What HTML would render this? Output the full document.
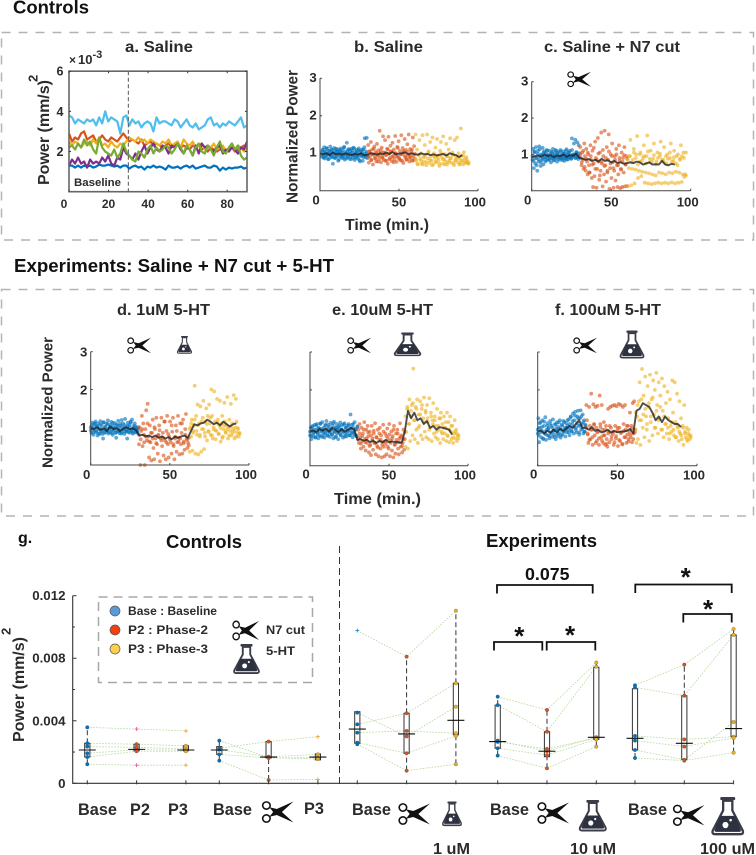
<!DOCTYPE html>
<html lang="en">
<head>
<meta charset="utf-8">
<title>Controls and experiments power chart</title>
<style>
html,body{margin:0;padding:0;background:#fff;width:756px;height:855px;overflow:hidden}
svg{display:block}
text{font-family:"Liberation Sans",sans-serif;font-weight:bold;fill:#2b2b2b}
.h{fill:#111}
</style>
</head>
<body>
<svg id="figure" xmlns="http://www.w3.org/2000/svg" width="756" height="855" viewBox="0 0 756 855">
<defs>
<symbol id="scissors-icon" viewBox="0 0 30 22" preserveAspectRatio="none">
<circle cx="4.6" cy="4.8" r="3.5" fill="#fff" stroke="#111" stroke-width="1.5"/>
<circle cx="4.6" cy="17.2" r="3.5" fill="#fff" stroke="#111" stroke-width="1.5"/>
<path d="M7.4 6.4L16.5 8.6L30 21L12.5 13Z" fill="#111"/>
<path d="M7.4 15.6L16.5 13.4L30 1L12.5 9Z" fill="#111"/>
</symbol>
<symbol id="flask-icon" viewBox="0 0 30 32" preserveAspectRatio="none">
<rect x="8.5" y="0" width="13" height="2.6" rx="1" fill="#3a3d49"/>
<path d="M11 3V11L2 27.5Q1 30.5 4 30.5H26Q29 30.5 28 27.5L19 11V3Z" fill="#fff" stroke="#3a3d49" stroke-width="2"/>
<path d="M8.4 15.5L3.6 27Q3.2 28.6 5 28.6H25Q26.8 28.6 26.4 27L21.6 15.5Z" fill="#2e3140"/>
<circle cx="13" cy="23" r="2.6" fill="#fff"/>
<circle cx="17.5" cy="19" r="1.1" fill="#fff"/>
</symbol>
</defs>

<rect width="756" height="855" fill="#fff"/>
<text class="h" x="13" y="13.5" font-size="18" textLength="76" lengthAdjust="spacingAndGlyphs">Controls</text>
<rect x="1.5" y="32.5" width="752" height="207.5" fill="none" stroke="#b4b4b4" stroke-width="1.5" stroke-dasharray="9 8"/>
<text class="h" x="14" y="272" font-size="18" textLength="320" lengthAdjust="spacingAndGlyphs">Experiments: Saline + N7 cut + 5-HT</text>
<rect x="1.5" y="289.5" width="752" height="226.5" fill="none" stroke="#b4b4b4" stroke-width="1.5" stroke-dasharray="9 8"/>

<text x="125" y="52" font-size="15.5" textLength="68" lengthAdjust="spacingAndGlyphs">a.  Saline</text>
<text x="354" y="52" font-size="15.5" textLength="69" lengthAdjust="spacingAndGlyphs">b.  Saline</text>
<text x="544" y="52" font-size="15.5" textLength="136" lengthAdjust="spacingAndGlyphs">c. Saline + N7 cut</text>
<text x="117" y="315" font-size="15.5" textLength="93" lengthAdjust="spacingAndGlyphs">d. 1uM 5-HT</text>
<text x="332" y="315" font-size="15.5" textLength="101" lengthAdjust="spacingAndGlyphs">e. 10uM 5-HT</text>
<text x="555" y="315" font-size="15.5" textLength="106" lengthAdjust="spacingAndGlyphs">f. 100uM 5-HT</text>

<text transform="translate(49,185) rotate(-90)" font-size="15.5" textLength="105" lengthAdjust="spacingAndGlyphs">Power (mm/s)</text>
<text transform="translate(37.5,82) rotate(-90)" font-size="13">2</text>
<text x="69" y="64" font-size="12">×</text>
<text x="78" y="64" font-size="13">10</text>
<text x="92.5" y="58" font-size="11">-3</text>
<text x="74" y="186" font-size="11" textLength="47" lengthAdjust="spacingAndGlyphs">Baseline</text>

<text transform="translate(297.5,203) rotate(-90)" font-size="15.3" textLength="133" lengthAdjust="spacingAndGlyphs">Normalized Power</text>
<text x="345" y="230" font-size="15.5" textLength="84" lengthAdjust="spacingAndGlyphs">Time (min.)</text>
<text transform="translate(52.5,468) rotate(-90)" font-size="15" textLength="131" lengthAdjust="spacingAndGlyphs">Normalized Power</text>
<text x="334" y="504" font-size="15.5" textLength="87" lengthAdjust="spacingAndGlyphs">Time (min.)</text>

<use href="#scissors-icon" x="567" y="71" width="24" height="16.5"/>
<use href="#scissors-icon" x="127" y="337" width="24" height="17"/>
<use href="#flask-icon" x="176.5" y="336" width="16" height="18"/>
<use href="#scissors-icon" x="347" y="337" width="24" height="17"/>
<use href="#flask-icon" x="393" y="332.5" width="29" height="24"/>
<use href="#scissors-icon" x="573" y="337" width="24" height="17"/>
<use href="#flask-icon" x="619" y="330.5" width="26" height="28.5"/>

<g id="panel-a"></g>
<g id="panel-b"></g>
<g id="panel-c"></g>
<g id="panel-d"></g>
<g id="panel-e"></g>
<g id="panel-f"></g>

<text class="h" x="18" y="543" font-size="16">g.</text>
<text class="h" x="166" y="548" font-size="18.5" textLength="76" lengthAdjust="spacingAndGlyphs">Controls</text>
<text class="h" x="486" y="547" font-size="18.5" textLength="111" lengthAdjust="spacingAndGlyphs">Experiments</text>
<line x1="339.5" y1="546" x2="339.5" y2="788" stroke="#333" stroke-width="1" stroke-dasharray="7 4"/>
<text transform="translate(24,742) rotate(-90)" font-size="15.5" textLength="105" lengthAdjust="spacingAndGlyphs">Power (mm/s)</text>
<text transform="translate(10.5,635) rotate(-90)" font-size="13">2</text>

<g id="panel-g"></g>

<g>
<rect x="98.5" y="597" width="214" height="85.5" fill="#fff" fill-opacity="0.6" stroke="#a8a8a8" stroke-width="1.5" stroke-dasharray="9 6"/>
<circle cx="115" cy="611" r="5" fill="#5b9bd5" stroke="#555" stroke-width="0.7"/>
<circle cx="115" cy="630" r="5" fill="#ee4210" stroke="#555" stroke-width="0.7"/>
<circle cx="115" cy="649" r="5" fill="#ffd04d" stroke="#555" stroke-width="0.7"/>
<text x="128" y="615" font-size="11.8" textLength="89" lengthAdjust="spacingAndGlyphs">Base : Baseline</text>
<text x="128" y="634" font-size="11.8" textLength="80" lengthAdjust="spacingAndGlyphs">P2  : Phase-2</text>
<text x="128" y="653" font-size="11.8" textLength="80" lengthAdjust="spacingAndGlyphs">P3  : Phase-3</text>
<use href="#scissors-icon" x="232" y="620" width="27" height="21"/>
<use href="#flask-icon" x="232.5" y="644" width="28" height="30.5"/>
<text x="266" y="634" font-size="12" textLength="39" lengthAdjust="spacingAndGlyphs">N7 cut</text>
<text x="266" y="655" font-size="12" textLength="29" lengthAdjust="spacingAndGlyphs">5-HT</text>
</g>

<text x="78" y="815" font-size="16.3">Base</text>
<text x="130" y="815" font-size="16.3">P2</text>
<text x="168" y="815" font-size="16.3">P3</text>
<text x="213" y="815" font-size="16.3">Base</text>
<use href="#scissors-icon" x="261.5" y="800.5" width="32" height="23"/>
<text x="304" y="814" font-size="16.3">P3</text>
<text x="352" y="815" font-size="16.3">Base</text>
<use href="#scissors-icon" x="398" y="802.5" width="32" height="23"/>
<use href="#flask-icon" x="441.5" y="801.5" width="21" height="25"/>
<text x="433" y="854" font-size="15.5" textLength="37" lengthAdjust="spacingAndGlyphs">1 uM</text>
<text x="490" y="815" font-size="16.3">Base</text>
<use href="#scissors-icon" x="537" y="801.5" width="32" height="23"/>
<use href="#flask-icon" x="578" y="800" width="29.5" height="32"/>
<text x="570" y="854" font-size="15.5" textLength="46" lengthAdjust="spacingAndGlyphs">10 uM</text>
<text x="628" y="815" font-size="16.3">Base</text>
<use href="#scissors-icon" x="672.5" y="804" width="32" height="22.5"/>
<use href="#flask-icon" x="710.5" y="797" width="34.5" height="39"/>
<text x="700" y="854" font-size="15.5" textLength="55" lengthAdjust="spacingAndGlyphs">100 uM</text>

<g fill="none" stroke="#111" stroke-width="1.8">
<path d="M497 593.5V585H592.7V593.5"/>
<path d="M494 650.5V642H542.3V650.5"/>
<path d="M546.7 650.5V642H595.3V650.5"/>
<path d="M635.3 593V584.5H731.7V593"/>
<path d="M683.3 622.5V614H731.7V622.5"/>
</g>
<text class="h" x="547.3" y="580" font-size="17.8" text-anchor="middle">0.075</text>
<text class="h" x="519.3" y="645" font-size="26" text-anchor="middle">*</text>
<text class="h" x="570" y="644" font-size="26" text-anchor="middle">*</text>
<text class="h" x="685.7" y="586" font-size="26" text-anchor="middle">*</text>
<text class="h" x="708" y="618" font-size="26" text-anchor="middle">*</text>

<script>
// ---------- panel a: absolute power (x 10^-3) ----------
const timeMaxA = 90;
const ticksXA = [0, 20, 40, 60, 80];
const ticksYA = [2, 4, 6];
const lineBlue = [1.3,1.3,1.2,1.3,1.2,1.3,1.25,1.3,1.2,1.25,1.35,1.3,1.3,1.35,1.3,1.25,1.3,1.2,1.3,1.3,1.15,1.25,1.3,1.2,1.25,1.1,1.25,1.2,1.3,1.2,1.25,1.2,1.1,1.3,1.2,1.2,1.25,1.15,1.25,1.3,1.2,1.3,1.15,1.2,1.25,1.3,1.2,1.2,1.3,1.25,1.05,1.2,1.1,1.2,1.15,1.2,1.2,1.25,1.15,1.2];
const lineSky = [3.8,3.7,3.4,3.6,3.5,3.4,3.6,3.5,3.6,3.3,3.7,3.4,4.0,3.5,3.7,3.6,3.5,2.9,3.7,3.8,3.3,3.6,3.4,3.5,3.2,3.4,3.5,3.4,3.0,3.7,3.4,3.5,3.5,3.4,3.3,3.6,3.5,3.2,3.4,3.6,3.3,3.2,3.4,3.1,3.2,3.3,3.6,3.7,3.3,3.4,3.2,3.4,3.3,3.5,3.4,3.3,3.5,3.7,3.2,3.3];
const lineOrange = [2.9,2.5,2.7,2.6,2.9,3.0,2.6,2.7,2.8,2.5,2.6,2.8,2.6,2.5,2.7,2.6,2.5,2.7,2.9,2.7,2.5,2.6,2.5,2.4,2.6,2.3,2.4,2.5,2.3,2.4,2.3,2.2,2.3,2.4,2.2,2.3,2.4,2.2,2.3,2.2,2.1,2.3,2.2,2.3,2.1,2.2,2.0,2.2,2.1,2.0,2.1,2.2,2.0,2.1,2.2,2.0,2.1,2.2,2.3,2.1];
const lineYellow = [2.5,2.3,2.5,2.4,2.2,2.4,2.5,2.3,2.6,2.4,2.7,2.3,2.4,2.2,2.5,2.3,2.2,2.4,2.3,2.5,2.7,2.6,2.5,2.7,2.5,2.6,2.4,2.6,2.5,2.4,2.3,2.5,2.4,2.6,2.3,2.4,2.5,2.2,2.6,2.4,2.3,2.5,2.2,2.3,2.4,2.1,2.3,2.2,2.4,2.1,2.2,2.3,2.0,2.2,2.4,2.1,2.3,2.2,2.0,2.2];
const linePurple = [1.3,1.6,1.4,1.7,1.4,1.5,1.2,1.6,1.4,1.5,1.4,1.7,1.5,1.8,1.4,1.3,1.7,1.6,2.2,1.9,1.8,1.6,1.9,1.6,2.0,2.3,1.9,2.2,2.4,2.1,2.0,2.3,2.2,1.9,2.3,2.2,2.4,2.1,1.9,2.2,2.1,1.8,2.3,1.9,2.4,2.2,2.3,2.1,2.0,2.2,2.3,1.9,2.1,2.0,2.2,2.1,1.9,2.2,2.1,2.5];
const lineGreen = [2.2,2.3,2.1,2.4,2.2,2.6,2.3,2.5,2.1,1.9,2.7,2.2,2.0,1.9,1.8,2.1,1.7,1.9,2.4,2.0,1.8,1.6,1.5,2.0,1.9,1.7,2.1,2.3,1.9,2.2,2.0,2.1,2.3,2.2,1.9,2.1,2.4,2.2,1.9,2.3,2.1,1.8,2.2,2.4,2.0,1.9,2.3,2.1,1.8,2.2,2.5,2.0,1.9,2.2,2.4,2.1,2.3,1.8,1.6,1.7];

// ---------- panels b-f: normalized power ----------
const normTicksX = [0, 50, 100];
const normTicksY = [1, 2, 3];
const bBase = [1.02,.9,1.1,.97,1.16,.86,1.04,.93,1.12,.99,.84,1.07,.95,1.18,1.01,.89,1.09,.72,.96,1.14,1.03,.88,1.06,.92,1.11,.8,.98,1.05,.91,1.13,1.0,.87,1.08,.94,1.17,.83,1.03,.96,1.28,.9,1.1,.99,.85,1.06,.93,1.12,1.01,.88,1.15,.97,.82,1.04,.91,1.09,1.0,.86,1.13,.95,.78,1.07,.92,1.02,.8,1.1,.98,1.4,.89,1.05,1.41,.94];
const bBaseB = [.95,1.08,.88,1.03,.92,1.14,.98,.85,1.06,.94,1.1,.9,1.0,.87,1.12,.96,1.04,.83,1.09,.93,1.02,.89,1.15,.97,.86,1.05,.91,1.11,.99,.84,1.07,.95,1.13,.88,1.01,.92,1.08,.82,1.03,.96,1.1,.9,1.16,.94,1.0,.87];
const bPhase2 = [1.22,.75,1.05,.92,1.3,.82,1.1,.7,.96,1.18,.88,1.03,.78,1.25,.94,1.08,.85,1.6,1.0,.76,1.15,.9,1.45,.83,1.02,1.35,.95,.8,1.12,.72,1.44,.98,.87,1.2,1.05,.79,1.28,.93,1.1,.84,1.46,1.0,.77,1.17,.91,1.32,.86,1.06,.81,1.48,.97,1.14,.74,1.03,1.38,.89,1.09,.83,1.24,.95,1.5,.78,1.11,.88,1.04,.8,1.42,.92,1.19,.85];
const bPhase2B = [.9,1.05,.82,.98,1.12,.86,1.0,.78,.94,1.08,.88,1.02,.8,.96,1.1,.84,1.04,.9,.76,1.0,.92,1.14,.85,.97,.8,1.06,.93,.83,1.03,.88,.95,1.1,.81,.99];
const bPhase3 = [1.5,.8,1.1,.7,.95,1.35,.85,1.0,.72,1.48,.9,.78,1.22,.96,.68,1.5,.86,1.05,.74,1.3,.92,.8,1.42,.7,1.0,.88,1.15,.76,1.38,.94,.82,.66,1.07,1.3,.9,.72,1.45,.84,.98,.78,1.25,.7,.92,1.1,.8,1.4,.87,.74,1.02,.95,.68,1.35,.82,.9,1.42,.76,1.0,.86,.72,1.66,.92,.8,.7,1.03,.85,.75,.9,.78,.73,.76];
const bPhase3B = [.85,.72,.96,.8,.7,.9,.76,1.02,.82,.68,.94,.78,.88,.72,1.0,.84,.7,.92,.76,.86,.98,.74,.82,.9,.7,.8,.95,.75,.84,.72];
const bMean = [1.0,.97,1.0,.95,1.02,.97,.99,.96,1.0,.97,.95,.98,.96,1.0,.94,.96,1.0,.98,.96,1.0,.97,1.02,.98,1.03,.97,.99,1.0,1.02,.97,1.0,.97,.96,1.0,.97,.98,.95,.97,.94,.96,.98,.94,1.0,.97,.95,.9,.95];

const cBase = [.85,1.15,.62,1.05,.75,1.2,.9,.55,1.1,.8,1.22,.95,.68,1.0,.85,1.18,.72,1.08,.92,.8,1.02,1.12,.88,.98,.84,1.1,.93,.78,1.05,.9,1.15,.96,.85,1.03,.92,1.1,.8,.98,1.06,.88,.95,1.12,.9,1.0,.84,1.08,.95,.82,1.02,.9,1.14,.97,.86,1.05,.92,1.1,.95,.88,1.44,1.0,.93,1.3,.98,1.4,.9,1.05,1.33,.96,1.25,.92];
const cBaseB = [.95,.82,1.08,.9,.7,1.02,.86,1.14,.78,.98,.88,1.05,.92,.84,1.1,.96,.87,1.0,.9,1.06,.83,.97,1.12,.89,1.03,.93,.85,1.08,.95,.88,1.02,.91,1.1,.86,.99,1.05,.92,.88,1.12,.97,1.0,.9,1.06,.94,.87,1.03];
const cPhase2 = [1.2,.9,.7,1.05,.85,.6,1.3,.95,.55,1.15,.8,.45,1.0,.7,.5,1.25,.85,.35,1.1,.1,.75,.4,1.35,.9,.08,.6,1.45,.8,.3,1.05,.55,1.6,.75,.12,.95,.45,1.65,.7,.25,1.2,.5,.85,1.55,.05,.62,1.0,.35,1.3,.78,.08,.55,.95,.28,1.15,.7,.1,.45,1.25,.82,.07,.6,1.05,.1,.9,.5,1.2,.12,.72,.95,.13];
const cPhase2B = [1.0,.78,1.1,.65,.88,1.05,.5,.95,.72,1.18,.6,.85,1.02,.42,.8,1.12,.68,.9,.55,1.08,.75,.95,.62,.85,1.0,.7,.9,.58,.8,.98,.72,.88];
const cPhase3 = [.12,.62,.95,1.4,.15,.6,.85,1.15,.2,.58,1.0,1.5,.35,.55,.8,1.05,.4,.52,.9,1.25,.22,.5,.95,1.52,.2,.48,.78,1.1,.18,.45,.88,1.3,.2,.42,.8,1.05,.22,.5,.95,1.35,.2,.48,.85,1.2,.22,.45,.75,1.0,.2,.5,.9,1.3,.23,.48,.82,1.1,.2,.52,.95,.7,.22,.5,.88,1.25,.24,.45,1.05,.38,.45,.42];
const cPhase3B = [.85,.95,.78,1.05,.9,.72,1.0,.82,.95,.75,1.08,.88,.8,.98,.72,.9,1.02,.85,.78,.95,.88,1.05,.8,.92,.75,1.0,.85,.95,.9,1.05];
const cMean = [.92,.95,.97,.93,1.0,.95,.98,.92,.97,.95,1.0,.93,.98,.96,1.02,.9,.88,.85,.87,.82,.85,.8,.88,.82,.84,.78,.82,.76,.78,.74,.76,.78,.76,.8,.78,.72,.75,.78,.72,.73,.72,.82,.72,.7,.74,.72];

const dBase = [1.0,.85,1.12,.95,.8,1.08,.92,1.15,.87,1.02,.78,1.1,.97,.84,1.16,.9,1.05,.82,.7,1.13,.94,1.01,.86,1.09,.91,1.18,.83,.98,1.06,.88,1.14,.93,.8,1.03,.96,1.11,.85,.72,1.07,.9,1.17,.99,.84,1.04,.92,1.19,.87,1.1,.95,.82,1.22,1.0,.89,.7,1.12,.94,1.06,.86,1.15,.91,1.2,.83,1.03,.97,1.1,.88,1.0,.93,.85,.96];
const dBaseB = [.92,1.05,.86,.99,1.1,.88,1.03,.94,.82,1.07,.96,.9,1.13,.85,1.0,.93,1.08,.87,.97,1.02,.84,1.11,.91,.98,.86,1.05,.94,.89,1.09,.83,1.01,.95,1.06,.88,.92,1.04,.86,.99,1.12,.9,.96,.85,1.03,.93,.88,1.0];
const dPhase2 = [.55,1.0,0,.9,1.3,.5,1.1,.8,0,.95,1.45,.65,1.62,.75,.2,1.05,.6,.12,.85,1.2,.45,.15,.95,.7,1.25,.55,.3,.8,1.05,.1,.7,1.25,.5,.85,.25,1.15,.65,.15,.9,1.3,.55,.2,.75,1.15,.6,.3,.88,1.25,.5,.15,.7,1.05,.35,.6,1.3,.72,.28,1.1,.55,.85,.3,1.2,.62,.4,.95,1.35,.7,.45,.58,.52];
const dPhase2B = [.8,.68,.95,.6,.75,1.1,.62,.85,.7,1.0,.58,.78,.92,.65,.72,1.15,.6,.82,.68,1.05,.55,.75,.9,.62,.7,1.1,.58,.8,.66,.72];
const dPhase3 = [.35,1.0,.75,1.2,.38,.9,1.05,2.1,.3,1.3,.8,1.6,.28,1.1,.75,1.55,.35,.95,1.25,1.7,.42,.85,1.15,1.5,.65,1.3,.9,1.6,1.1,.8,2.0,1.3,.7,.95,1.95,1.15,.68,.9,1.75,1.2,.82,1.05,1.7,.62,1.1,1.3,.75,.95,1.65,1.15,.85,1.05,1.8,.7,1.0,1.2,.9,1.62,.78,1.1,.95,1.85,.7,1.0,1.75,1.15,.85,.95,.75,.85];
const dPhase3B = [.95,1.1,.85,1.2,.9,1.05,.8,1.15,.95,.75,1.08,.88,1.25,.78,1.0,.92,1.12,.82,.98,.72,1.05,.88,.95,.78,1.02,.85,.9,.75,.98,.82];
const dMean = [.97,.95,1.0,.93,.97,.9,1.02,.95,.98,.9,.96,1.0,.95,.97,.92,.78,.8,.76,.78,.74,.78,.72,.76,.7,.74,.68,.75,.72,.76,.78,.72,.9,1.08,1.05,1.1,1.12,1.2,1.15,1.08,1.12,1.05,1.15,1.08,1.02,1.08,1.1];

const eBase = [.8,1.0,.7,.92,1.05,.78,.88,1.08,.75,.95,1.1,.82,.72,1.0,.9,1.12,.77,.97,1.15,.85,.93,.74,1.06,.88,1.18,.8,.98,1.08,.9,.76,1.13,.95,.83,1.05,.72,1.16,.89,1.0,.78,1.1,.94,.7,1.03,.87,1.14,.8,.96,1.07,.74,.91,1.12,.84,1.0,.77,1.05,.92,1.1,.8,.95,1.35,.86,1.08,.75,1.0,.9,1.15,.82,.96,.78,1.04];
const eBaseB = [.9,.78,1.02,.85,.95,.74,1.06,.88,.98,.8,1.1,.92,.76,1.0,.84,1.08,.93,.79,1.03,.87,.96,.82,1.12,.9,.75,1.01,.86,.97,1.06,.81,.94,.89,1.09,.77,1.0,.85,.92,1.05,.8,.98,.88,1.1,.83,.95,.78,1.02];
const ePhase2 = [.95,.6,1.1,.75,.45,1.0,.65,.85,.5,1.15,.7,.4,.95,.6,1.05,.78,.35,.9,.55,.28,1.05,.72,.42,.85,.6,1.12,.3,.75,.52,.95,.25,.68,1.0,.45,.8,.22,.62,1.08,.5,.25,.85,.58,.3,.98,.72,.45,1.1,.25,.66,.9,.4,.78,.22,1.05,.55,.32,.85,.62,.95,.45,.3,.72,1.12,.5,.8,.35,.6,.95,.42,.7];
const ePhase2B = [.7,.85,.58,.78,.95,.62,.72,.88,.52,.8,.66,.92,.6,.75,.48,.85,.68,.55,.9,.64,.78,.5,.82,.6,.72,.95,.56,.68,.85,.62,.76,.52,.7,.88];
const ePhase3 = [.5,.9,1.5,.45,1.1,1.75,.65,1.3,1.6,.8,2.56,1.2,.7,1.55,.95,1.75,.6,1.35,1.05,1.7,.8,1.5,.7,1.25,1.8,.9,1.45,.75,1.6,1.15,.7,1.78,1.0,1.4,.65,1.2,1.65,.85,1.3,.75,1.05,1.5,.7,.95,1.25,.6,1.4,.9,1.1,.7,1.3,.85,1.0,.65,1.4,.78,1.15,.62,1.3,.9,.7,1.05,.6,.85,1.2,.72,.95,.65,.8,.72];
const ePhase3B = [1.3,1.55,1.1,1.45,1.65,1.2,1.5,1.0,1.35,1.6,1.15,1.4,1.25,.95,1.3,1.1,1.2,.9,1.05,1.25,.85,1.0,1.15,.8,.95,1.05,.75,.9,.85,.8];
const eMean = [.9,.93,.88,.97,.92,.98,.9,1.0,.95,.88,.97,.9,.95,1.0,.95,.68,.7,.66,.68,.62,.66,.6,.65,.62,.68,.62,.64,.62,.62,.6,.9,1.45,1.25,1.4,1.2,1.25,1.1,1.18,1.0,1.05,.95,1.02,1.0,.98,.95,.82];

const fBase = [.85,1.25,.62,1.0,1.15,.75,.92,1.2,.7,1.05,.85,1.28,.68,.95,1.12,.8,1.0,.72,1.18,.88,1.05,.76,1.22,.93,.82,1.1,.7,.98,1.15,.78,1.02,.86,1.2,.74,.95,1.08,.82,1.18,.9,1.0,.77,1.12,.88,1.05,.95,1.22,.8,1.0,1.3,.9,1.1,1.38,.85,1.2,1.42,1.0,.88,1.3,1.45,1.05,.82,1.25,1.46,.95,1.1,1.35,.85,1.2,.9,1.05];
const fBaseB = [.95,.8,1.12,.88,1.02,.72,1.16,.9,.82,1.05,.96,.78,1.1,.86,1.0,.92,.76,1.08,.94,.84,1.14,.98,.8,1.06,.9,1.15,.95,1.0,1.2,.88,1.1,1.28,.92,1.18,1.02,1.32,.95,1.12,1.25,.88,1.05,1.3,.98,1.15,.9,1.08];
const fPhase2 = [1.6,1.2,.85,.6,1.55,1.05,.7,1.9,.95,.55,1.62,1.1,.8,1.55,1.0,.65,1.58,.9,.55,1.85,1.1,.75,1.6,.95,.6,1.15,.8,.55,1.05,.7,.5,1.5,.9,.62,1.55,1.0,.78,1.58,.85,.55,1.6,1.05,.72,1.57,.92,.52,1.63,1.0,.65,1.6,.88,.58,1.55,1.1,.75,1.6,.95,.6,.82,1.05,.7,.9,1.4,.75,1.05,.62,1.65,.85,1.7,.95];
const fPhase2B = [1.0,.82,.68,.95,.75,1.08,.6,.88,.72,1.02,.66,.8,.95,.58,.85,1.05,.7,.9,.62,.78,1.0,.68,.86,.56,.92,.75,1.05,.64,.82,.98,.7,.88];
const fPhase3 = [.95,.6,1.3,.7,1.7,2.2,.55,1.2,2.55,1.0,1.85,.75,2.35,1.3,.95,2.1,1.55,.65,2.4,1.15,1.75,.8,2.25,1.35,2.0,1.0,2.45,1.6,.85,2.2,1.25,1.85,.95,2.3,1.45,.75,2.1,1.1,1.65,.85,1.95,1.25,.7,1.75,1.05,.9,2.25,1.4,.8,2.2,1.15,.75,1.9,1.0,.65,1.7,.85,1.25,.7,1.05,.55,1.6,.9,.75,1.0,.65,.85,.8,.7,.75];
const fPhase3B = [1.4,1.6,1.2,1.75,1.35,1.5,1.1,1.65,1.3,1.8,1.0,1.45,1.2,1.55,.95,1.3,1.1,1.0,.85,1.15,.95,.75,1.05,.9,.8,1.0,.85,.7,.95,.8];
const fMean = [.9,.93,.85,.92,.87,.95,.88,.97,.92,.98,1.05,1.0,1.1,1.2,1.0,1.0,.95,1.02,.92,.95,.88,.9,.95,.87,.92,.88,.9,.9,.92,.97,.85,1.45,1.5,1.65,1.6,1.55,1.4,1.2,1.3,1.15,1.3,1.2,1.15,1.1,1.1,1.02];

// time spans (minutes) of each phase's scatter, per panel
const bSpans = [[1, 30], [30.5, 60], [60.5, 94]];
const cSpans = [[0.5, 30], [30.5, 60], [60.5, 97]];
const dSpans = [[0, 30], [30.5, 62], [62.5, 94]];
const eSpans = [[0, 30], [30.5, 60], [60.5, 94]];
const fSpans = [[0, 30], [30.5, 61], [61.5, 96]];

// ---------- panel g: per-subject power (x 10^-3) ----------
const powerTicks = [0, 4, 8, 12];
const powerTickLabels = ["0", "0.004", "0.008", "0.012"];
const minorPowerTicks = [2, 6, 10];
const group1Subjects = [[3.58,3.47,3.35],[2.56,2.50,2.40],[2.35,2.30,2.20],[1.92,2.15,2.12],[1.68,2.05,2.05],[1.22,1.16,1.16]];
const group2Subjects = [[2.24,2.67,2.98],[2.73,1.65,1.55],[2.15,1.70,1.85],[1.85,1.62,1.65],[1.45,0.21,0.25]];
const group3Subjects = [[9.77,8.1,11.04],[4.52,3.0,4.9],[3.77,4.48,6.4],[3.24,3.35,3.2],[2.6,1.92,3.03],[2.5,0.81,1.22]];
const group4Subjects = [[5.54,4.69,7.72],[5.0,3.3,7.46],[2.73,2.05,2.95],[2.65,2.2,2.9],[2.24,1.8,2.81],[1.77,0.96,2.35]];
const group5Subjects = [[6.27,7.59,9.87],[6.14,5.6,9.49],[3.03,2.81,2.98],[2.73,2.35,2.9],[2.13,1.5,3.92],[1.62,1.45,1.96]];
// box stats per phase: [lower whisker, q1, median, q3, upper whisker]
const group1Boxes = [[1.22,1.68,2.13,2.56,3.58],[2.05,2.08,2.17,2.5,2.55],[2.05,2.08,2.13,2.4,2.42]];
const group2Boxes = [[1.45,1.85,2.13,2.35,2.73],[.21,1.62,1.68,2.67,2.67],[1.45,1.5,1.68,1.88,1.9]];
const group3Boxes = [[2.56,2.56,3.47,4.58,4.58],[.81,1.92,3.16,4.48,8.1],[1.22,3.1,4.03,6.4,11.04]];
const group4Boxes = [[1.77,2.24,2.67,5.0,5.54],[.96,1.7,2.05,3.3,4.69],[2.35,2.81,2.94,7.42,7.72]];
const group5Boxes = [[1.62,2.13,2.88,6.05,6.27],[1.45,1.53,2.56,5.6,7.59],[1.96,2.98,3.5,9.49,9.87]];
// subject indices drawn as outlier "+" per phase
const group1Outliers = [[], [0, 5], [0, 5]];
const group2Outliers = [[], [], [0, 4]];
const group3Outliers = [[0], [], []];
const group4Outliers = [[], [], []];
const group5Outliers = [[], [], []];

const NS = "http://www.w3.org/2000/svg";
const phaseColors = ["#0072BD", "#D95319", "#EDB120"];

function linear(d0, d1, r0, r1) {
  return function (v) { return r0 + (v - d0) * (r1 - r0) / (d1 - d0); };
}
function pathFrom(values, x, y, xEnd) {
  return values.map(function (v, i) {
    const t = i / (values.length - 1) * xEnd;
    return (i ? "L" : "M") + x(t).toFixed(2) + " " + y(v).toFixed(2);
  }).join("");
}
function addLine(parent, x1, y1, x2, y2, stroke, width) {
  const el = document.createElementNS(NS, "line");
  
  
  el.setAttribute("x1", x1); el.setAttribute("y1", y1);
  el.setAttribute("x2", x2); el.setAttribute("y2", y2);
  el.setAttribute("stroke", stroke); el.setAttribute("stroke-width", width);
  parent.appendChild(el);
  return el;
}
function addTickLabel(parent, x, y, str, size, anchor) {
  const el = document.createElementNS(NS, "text");
  
  
  el.setAttribute("x", x); el.setAttribute("y", y);
  el.setAttribute("font-size", size);
  el.setAttribute("text-anchor", anchor);
  el.textContent = str;
  parent.appendChild(el);
}

// ---- panel a ----
(function drawPanelA() {
  const g = document.getElementById("panel-a");
  const x = linear(0, 90, 69, 247);
  const y = linear(0, 6, 191.7, 71.2);
  const series = [[lineBlue, "#0072BD"], [lineSky, "#4DBEEE"], [lineOrange, "#D95319"], [lineYellow, "#EDB120"], [linePurple, "#7E2F8E"], [lineGreen, "#77AC30"]];
  series.forEach(function (s) {
    const p = document.createElementNS(NS, "path");
    
    
    p.setAttribute("d", pathFrom(s[0], x, y, timeMaxA));
    p.setAttribute("fill", "none");
    p.setAttribute("stroke", s[1]);
    p.setAttribute("stroke-width", "2.2");
    p.setAttribute("stroke-linejoin", "round");
    g.appendChild(p);
  });
  const frame = document.createElementNS(NS, "rect");
  
  
  frame.setAttribute("x", x(0)); frame.setAttribute("y", y(6));
  frame.setAttribute("width", x(90) - x(0)); frame.setAttribute("height", y(0) - y(6));
  frame.setAttribute("fill", "none"); frame.setAttribute("stroke", "#666"); frame.setAttribute("stroke-width", "1.6");
  g.appendChild(frame);
  const dash = addLine(g, x(30), y(6), x(30), y(0), "#555", 1);
  dash.setAttribute("stroke-dasharray", "4 2.5");
  ticksXA.forEach(function (t) {
    addLine(g, x(t), y(0), x(t), y(0) - 2, "#333", 1);
    addLine(g, x(t), y(6), x(t), y(6) + 2, "#333", 1);
    addTickLabel(g, t === 0 ? 64 : x(t), 208, String(t), 12, "middle");
  });
  ticksYA.forEach(function (t) {
    addLine(g, x(0), y(t), x(0) + 2, y(t), "#333", 1);
    addLine(g, x(90), y(t), x(90) - 2, y(t), "#333", 1);
    addTickLabel(g, 60, y(t) + 4.5, String(t), 12.5, "middle");
  });
})();

// ---- panels b-f ----
function drawNormPanel(id, cfg) {
  const g = document.getElementById(id);
  const x = linear(0, 100, cfg.left, cfg.right);
  const y = linear(0, 3, cfg.bottom, cfg.top);
  cfg.phases.forEach(function (layers, phase) {
    const span = cfg.spans[phase];
    layers.forEach(function (vals) {
      vals.forEach(function (v, i) {
        const c = document.createElementNS(NS, "circle");
        
        
        c.setAttribute("cx", x(span[0] + (span[1] - span[0]) * i / (vals.length - 1)).toFixed(2));
        c.setAttribute("cy", y(v).toFixed(2));
        c.setAttribute("r", "1.9");
        c.setAttribute("fill", phaseColors[phase]);
        c.setAttribute("fill-opacity", "0.62");
        g.appendChild(c);
      });
    });
  });
  const m = document.createElementNS(NS, "path");
  
  
  m.setAttribute("d", pathFrom(cfg.mean, x, y, cfg.meanEnd));
  m.setAttribute("fill", "none");
  m.setAttribute("stroke", "#222");
  m.setAttribute("stroke-opacity", "0.8");
  m.setAttribute("stroke-width", "1.9");
  m.setAttribute("stroke-linejoin", "round");
  g.appendChild(m);
  addLine(g, x(0), y(3), x(0), y(0) + 0.5, "#444", 1);
  addLine(g, x(0) - 0.5, y(0), x(100), y(0), "#444", 1);
  normTicksX.forEach(function (t) {
    addLine(g, x(t), y(0), x(t), y(0) - 2, "#444", 1);
    const dx = t === 0 ? -4 : (t === 100 ? -3 : 0);
    addTickLabel(g, x(t) + dx, y(0) + (t === 0 ? cfg.zeroDy : cfg.labelDy), String(t), 13.2, "middle");
  });
  normTicksY.forEach(function (t) {
    addLine(g, x(0), y(t), x(0) + 2, y(t), "#444", 1);
    if (cfg.yLabels) addTickLabel(g, x(0) - 7, y(t) + cfg.yLabelDy, String(t), 13.2, "middle");
  });
}
drawNormPanel("panel-b", {left:320, right:478, top:78.3, bottom:190.7, phases:[[bBase,bBaseB],[bPhase2,bPhase2B],[bPhase3,bPhase3B]], spans:bSpans, mean:bMean, meanEnd:90, yLabels:true, labelDy:16, zeroDy:14, yLabelDy:3.5});
drawNormPanel("panel-c", {left:531.7, right:690.7, top:81.7, bottom:190.7, phases:[[cBase,cBaseB],[cPhase2,cPhase2B],[cPhase3,cPhase3B]], spans:cSpans, mean:cMean, meanEnd:90, yLabels:true, labelDy:16, zeroDy:14, yLabelDy:4});
drawNormPanel("panel-d", {left:90.7, right:249, top:351.7, bottom:465, phases:[[dBase,dBaseB],[dPhase2,dPhase2B],[dPhase3,dPhase3B]], spans:dSpans, mean:dMean, meanEnd:92, yLabels:true, labelDy:14, zeroDy:14, yLabelDy:5});
drawNormPanel("panel-e", {left:310, right:468, top:352, bottom:465.7, phases:[[eBase,eBaseB],[ePhase2,ePhase2B],[ePhase3,ePhase3B]], spans:eSpans, mean:eMean, meanEnd:90, yLabels:false, labelDy:14, zeroDy:13, yLabelDy:0});
drawNormPanel("panel-f", {left:537.7, right:697, top:352, bottom:465.7, phases:[[fBase,fBaseB],[fPhase2,fPhase2B],[fPhase3,fPhase3B]], spans:fSpans, mean:fMean, meanEnd:90, yLabels:false, labelDy:14, zeroDy:13, yLabelDy:0});

// ---- panel g ----
(function drawPanelG() {
  const g = document.getElementById("panel-g");
  const y = linear(0, 12, 783.3, 595.7);
  const groups = [
    {start:87.3, subjects:group1Subjects, boxes:group1Boxes, outliers:group1Outliers},
    {start:219.3, subjects:group2Subjects, boxes:group2Boxes, outliers:group2Outliers},
    {start:357.3, subjects:group3Subjects, boxes:group3Boxes, outliers:group3Outliers},
    {start:497.7, subjects:group4Subjects, boxes:group4Boxes, outliers:group4Outliers},
    {start:635, subjects:group5Subjects, boxes:group5Boxes, outliers:group5Outliers}
  ];
  const phaseGap = 49.3;
  const outlierColors = ["#1f8fd0", "#e2609a", "#f0a030"];

  addLine(g, 72.7, y(12), 72.7, y(0), "#333", 1.1);
  addLine(g, 72.2, y(0), 733, y(0), "#333", 1.1);
  powerTicks.forEach(function (t, i) {
    addLine(g, 72.7, y(t), 76.5, y(t), "#333", 1);
    addTickLabel(g, 65.5, y(t) + 4.5, powerTickLabels[i], 13.3, "end");
  });
  minorPowerTicks.forEach(function (t) {
    addLine(g, 72.7, y(t), 75, y(t), "#333", 1);
  });

  groups.forEach(function (grp) {
    const px = function (phase) { return grp.start + phase * phaseGap; };
    grp.subjects.forEach(function (sub) {
      const l = document.createElementNS(NS, "path");
      
      
      l.setAttribute("d", sub.map(function (v, i) { return (i ? "L" : "M") + px(i).toFixed(2) + " " + y(v).toFixed(2); }).join(""));
      l.setAttribute("fill", "none");
      l.setAttribute("stroke", "#9ccc7c");
      l.setAttribute("stroke-opacity", "0.75");
      l.setAttribute("stroke-width", "0.8");
      l.setAttribute("stroke-dasharray", "1.6 1.4");
      g.appendChild(l);
    });
    grp.boxes.forEach(function (b, phase) {
      const cx = px(phase);
      const wLow = addLine(g, cx, y(b[0]), cx, y(b[1]), "#333", 1);
      wLow.setAttribute("stroke-dasharray", "5 3");
      const wHigh = addLine(g, cx, y(b[3]), cx, y(b[4]), "#333", 1);
      wHigh.setAttribute("stroke-dasharray", "5 3");
      const box = document.createElementNS(NS, "rect");
      
      
      box.setAttribute("x", cx - 2.6);
      box.setAttribute("y", y(b[3]));
      box.setAttribute("width", 5.2);
      box.setAttribute("height", y(b[1]) - y(b[3]));
      box.setAttribute("fill", "#fff");
      box.setAttribute("fill-opacity", "0.55");
      box.setAttribute("stroke", "#333");
      box.setAttribute("stroke-width", "1");
      g.appendChild(box);
      grp.subjects.forEach(function (sub, si) {
        const val = sub[phase];
        if (grp.outliers[phase].indexOf(si) >= 0) {
          const plus = document.createElementNS(NS, "path");
          
          
          plus.setAttribute("d", "M" + (cx - 2) + " " + y(val) + "h4M" + cx + " " + (y(val) - 2) + "v4");
          plus.setAttribute("stroke", outlierColors[phase]);
          plus.setAttribute("stroke-width", "0.9");
          plus.setAttribute("fill", "none");
          g.appendChild(plus);
        } else {
          const dot = document.createElementNS(NS, "circle");
          
          
          dot.setAttribute("cx", cx);
          dot.setAttribute("cy", y(val).toFixed(2));
          dot.setAttribute("r", "1.8");
          dot.setAttribute("fill", phaseColors[phase]);
          dot.setAttribute("stroke", "#555");
          dot.setAttribute("stroke-width", "0.3");
          g.appendChild(dot);
        }
      });
      addLine(g, cx - 8.5, y(b[2]), cx + 8.5, y(b[2]), "#111", 1.1);
      addLine(g, cx, y(0) + 1, cx, y(0) - 3, "#333", 1);
    });
  });
})();
</script>
</svg>
</body>
</html>
